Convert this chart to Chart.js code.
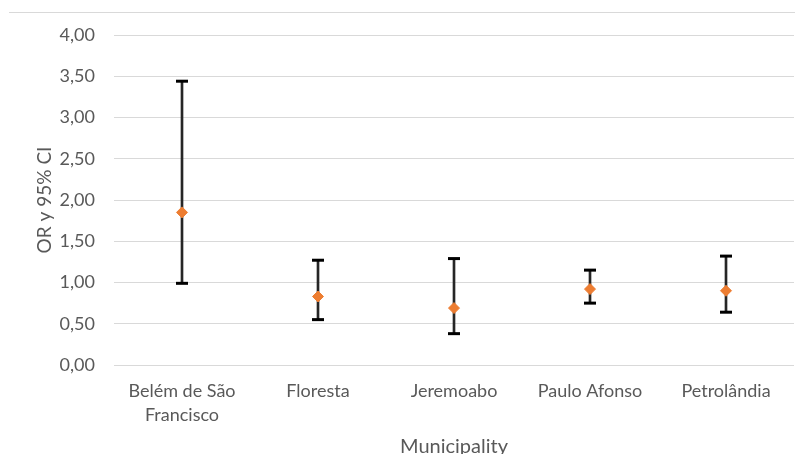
<!DOCTYPE html>
<html>
<head>
<meta charset="utf-8">
<script src="https://cdn.jsdelivr.net/npm/chart.js@4/dist/chart.umd.min.js"></script>
<style>
  html, body { margin: 0; padding: 0; background: #fff; overflow: hidden; }
  #wrap { position: relative; width: 795px; height: 454px; }
  #frame { position: absolute; left: 9px; top: 12px; width: 786px; height: 0; border-top: 1px solid #d9d9d9; }
  canvas { position: absolute; left: 0; top: 0; }
</style>
</head>
<body>
<div id="wrap">
  <div id="frame"></div>
  <canvas id="c" width="795" height="454"></canvas>
</div>
<script>
const categories = ["Belém de São Francisco", "Floresta", "Jeremoabo", "Paulo Afonso", "Petrolândia"];
const tickLabels = [["Belém de São", "Francisco"], "Floresta", "Jeremoabo", "Paulo Afonso", "Petrolândia"];
const oddsRatio = [1.85, 0.83, 0.69, 0.92, 0.90];
const ciLower = [0.99, 0.55, 0.38, 0.75, 0.64];
const ciUpper = [3.44, 1.27, 1.29, 1.15, 1.32];
const yMin = 0, yMax = 4, yStep = 0.5;

const FONT = "Lato, 'Open Sans', sans-serif";
const TXT = "#595959";

new Chart(document.getElementById("c"), {
  data: {
    labels: tickLabels,
    datasets: [
      {
        type: "bar",
        label: "95% CI",
        data: categories.map((c, i) => [ciLower[i], ciUpper[i]]),
        backgroundColor: "#262626",
        borderWidth: 0,
        barThickness: 2,
        order: 3
      },
      {
        type: "line",
        label: "Lower",
        data: ciLower,
        showLine: false,
        pointStyle: "line",
        pointRadius: 6,
        pointBorderWidth: 3,
        borderColor: "#000",
        order: 2
      },
      {
        type: "line",
        label: "Upper",
        data: ciUpper,
        showLine: false,
        pointStyle: "line",
        pointRadius: 6,
        pointBorderWidth: 3,
        borderColor: "#000",
        order: 2
      },
      {
        type: "line",
        label: "OR",
        data: oddsRatio,
        showLine: false,
        pointStyle: "rectRot",
        pointRadius: 5.5,
        pointBorderWidth: 1,
        pointBackgroundColor: "#ED7D31",
        pointBorderColor: "#ED7D31",
        order: 1
      }
    ]
  },
  options: {
    responsive: false,
    animation: false,
    events: [],
    layout: { autoPadding: false, padding: { top: 35, right: 1, left: 0, bottom: 0 } },
    plugins: { legend: { display: false }, tooltip: { enabled: false } },
    scales: {
      x: {
        type: "category",
        offset: true,
        grid: { display: false, drawTicks: false },
        border: { display: false },
        ticks: {
          color: TXT,
          font: { family: FONT, size: 18, lineHeight: 1.33 },
          padding: 14,
          maxRotation: 0,
          autoSkip: false
        },
        title: {
          display: true,
          text: "Municipality",
          color: TXT,
          font: { family: FONT, size: 20 },
          padding: { top: 0, bottom: -5 }
        },
        afterFit: (s) => { s.height = 89; s.paddingLeft = 0; s.paddingRight = 0; }
      },
      y: {
        min: yMin,
        max: yMax,
        grid: { color: "#d9d9d9", lineWidth: 1, drawTicks: false },
        border: { display: false },
        ticks: {
          stepSize: yStep,
          color: TXT,
          font: { family: FONT, size: 18 },
          padding: 19,
          callback: (v) => Number(v).toFixed(2).replace(".", ",")
        },
        title: {
          display: true,
          text: "OR y 95% CI",
          color: TXT,
          font: { family: FONT, size: 19 },
          padding: { top: 33, bottom: 0 }
        },
        afterFit: (s) => { s.width = 114; }
      }
    }
  }
});
</script>
</body>
</html>
